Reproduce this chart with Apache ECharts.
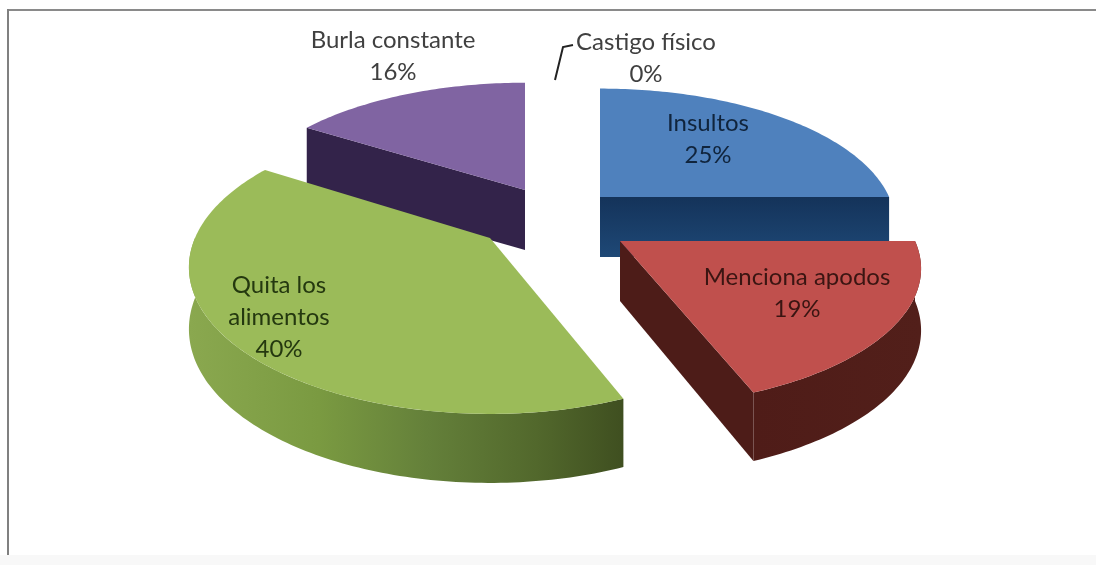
<!DOCTYPE html>
<html>
<head>
<meta charset="utf-8">
<style>
  html, body { margin: 0; padding: 0; background: #fff; }
  #container { width: 1096px; height: 565px; }
</style>
</head>
<body>
<div id="container"></div>
<script src="https://cdn.jsdelivr.net/npm/echarts@6/dist/echarts.min.js"></script>
<script>
  const categories = ['Insultos', 'Menciona apodos', 'Quita los alimentos', 'Burla constante', 'Castigo físico']
  const shares = [25, 19, 40, 16, 0]

  // how each slice is drawn: exploded apex, size, paint order, colours, label place
  const apexes = [[600, 197], [620, 241], [490, 238], [525, 190], [555, 80]]
  const radiusScale = [0.98, 1, 1, 0.97, 1]
  const tiltScale = [1, 1, 1.06, 1, 1]
  const paintOrder = [2, 4, 3, 1, 5]
  const topColors = ['#4f81bd', '#c0504d', '#9bbb59', '#8064a2', '#888888']
  const wallColors = ['#17375e', '#4d1c18', '#3f4f20', '#33234a', '#888888']
  const rimStops = [
    [[0, '#17375e'], [1, '#17375e']],
    [[0, '#4f1c18'], [1, '#521f1a']],
    [[0, '#8aa84f'], [0.3, '#7a9a41'], [0.55, '#64803a'], [0.8, '#52682c'], [1, '#3f4f20']],
    [[0, '#33234a'], [1, '#33234a']],
    [[0, '#888888'], [1, '#888888']]
  ]
  const labelLines = [
    ['Insultos', '25%'],
    ['Menciona apodos', '19%'],
    ['Quita los', 'alimentos', '40%'],
    ['Burla constante', '16%'],
    ['Castigo físico', '0%']
  ]
  const labelPlaces = [[708, 123], [797, 277], [279, 285], [393, 40], [646, 42]]
  const labelColors = ['#10243c', '#3a1512', '#24380f', '#404040', '#404040']
  const leaderLine = [[573, 45], [563, 47], [555, 80]]

  const RADIUS = 295
  const TILT = 0.45
  const PERSPECTIVE = 0.2
  const DEPTH = 60
  const LINE_HEIGHT = 32

  // pie angle in degrees, clockwise from 12 o'clock -> point on screen
  function project(apex, deg, scale, tilt) {
    const t = deg * Math.PI / 180
    const u = Math.sin(t)
    const v = -Math.cos(t)
    const s = scale / (1 - PERSPECTIVE * v)
    return [apex[0] + u * RADIUS * s, apex[1] + v * TILT * tilt * RADIUS * s]
  }
  function drop(p, deg) {
    const v = Math.max(0, -Math.cos(deg * Math.PI / 180))
    return [p[0], p[1] + DEPTH * (1 + 0.15 * v)]
  }
  function arcPoints(apex, from, to, scale, tilt) {
    const pts = []
    const n = Math.max(1, Math.ceil(to - from))
    for (let i = 0; i <= n; i++) {
      pts.push(project(apex, from + (to - from) * i / n, scale, tilt))
    }
    return pts
  }

  function renderSlice(params, api) {
    const i = params.dataIndex
    const value = api.value(0)
    const total = shares.reduce((a, b) => a + b, 0)
    const startShare = shares.slice(0, i).reduce((a, b) => a + b, 0)
    const from = startShare / total * 360
    const to = from + value / total * 360
    const apex = apexes[i]
    const scale = radiusScale[i]
    const tilt = tiltScale[i]
    const z = paintOrder[i] * 10
    const children = []

    if (value > 0) {
      const apexLow = [apex[0], apex[1] + DEPTH]
      // the cut edges that face the viewer
      const faces = []
      if (to >= 90 && to < 180) faces.push(to)
      if (from > 180 && from < 360) faces.push(from)
      faces.forEach(deg => {
        const e = project(apex, deg, scale, tilt)
        const flat = deg === 90
        children.push({
          type: 'polygon', z2: z,
          shape: { points: [apex, e, drop(e, deg), apexLow] },
          style: {
            fill: flat ? {
              type: 'linear', x: 0, y: 0, x2: 0, y2: 1, colorStops: [
                { offset: 0, color: '#14335a' }, { offset: 1, color: '#1e4876' }
              ]
            } : wallColors[i]
          }
        })
      })
      // outer rim, front half only
      const a = Math.max(from, 90)
      const b = Math.min(to, 270)
      if (b > a) {
        const top = arcPoints(apex, a, b, scale, tilt)
        const n = top.length - 1
        const low = top.map((p, k) => drop(p, a + (b - a) * k / n)).reverse()
        const dirRight = top[0][0] > top[n][0]
        const stops = rimStops[i].map(s => ({ offset: s[0], color: s[1] }))
        children.push({
          type: 'polygon', z2: z + 1,
          shape: { points: top.concat(low) },
          style: {
            fill: { type: 'linear', x: dirRight ? 0 : 1, y: 0, x2: dirRight ? 1 : 0, y2: 0, colorStops: stops }
          }
        })
      }
      // top face
      children.push({
        type: 'polygon', z2: z + 2,
        shape: { points: [apex].concat(arcPoints(apex, from, to, scale, tilt)) },
        style: { fill: topColors[i] }
      })
    } else {
      children.push({
        type: 'polyline', z2: z,
        shape: { points: leaderLine },
        style: { stroke: '#222222', lineWidth: 2, fill: null }
      })
    }

    labelLines[i].forEach((line, k) => {
      children.push({
        type: 'text', z2: 100,
        style: {
          text: line,
          x: labelPlaces[i][0],
          y: labelPlaces[i][1] + k * LINE_HEIGHT,
          fill: labelColors[i],
          font: '24px Lato',
          align: 'center',
          verticalAlign: 'middle'
        }
      })
    })
    return { type: 'group', children: children }
  }

  const myChart = echarts.init(document.getElementById('container'), null, { renderer: 'canvas' })
  myChart.setOption({
    backgroundColor: '#ffffff',
    animation: false,
    graphic: [
      { type: 'rect', shape: { x: 0, y: 555, width: 1096, height: 10 }, style: { fill: '#f8f8f8' } },
      { type: 'rect', shape: { x: 8, y: 9, width: 1088, height: 2 }, style: { fill: '#8a8a8a' } },
      { type: 'rect', shape: { x: 7, y: 9, width: 2, height: 546 }, style: { fill: '#808080' } }
    ],
    series: [{
      type: 'custom',
      coordinateSystem: 'none',
      renderItem: renderSlice,
      data: shares.map((v, i) => ({ name: categories[i], value: [v] }))
    }]
  })
</script>
</body>
</html>
